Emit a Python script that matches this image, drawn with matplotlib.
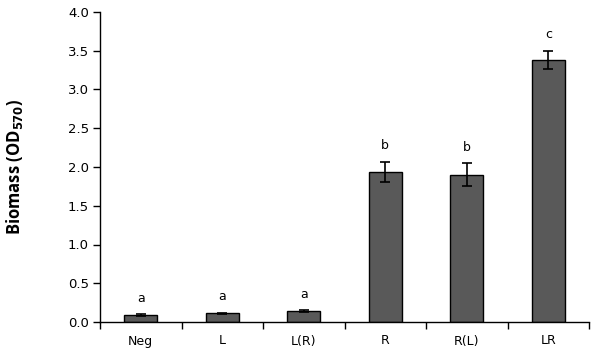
import matplotlib
matplotlib.use("Agg")
import matplotlib.pyplot as plt
import numpy as np

categories = ["Neg", "L", "L(R)", "R", "R(L)", "LR"]
values = [0.09, 0.11, 0.14, 1.94, 1.90, 3.38]
errors = [0.015, 0.012, 0.012, 0.13, 0.15, 0.12]
letters = ["a", "a", "a", "b", "b", "c"]
yticks = [0.0, 0.5, 1.0, 1.5, 2.0, 2.5, 3.0, 3.5, 4.0]

fig = plt.figure(figsize=(5.98, 3.54), dpi=100)
ax = fig.add_axes([100/598, 1-322/354, (589-100)/598, (322-12)/354])

x = np.arange(len(categories))
ax.bar(x, values, width=0.4, color="#595959", edgecolor="black", linewidth=1.0, zorder=2)
ax.errorbar(x, values, yerr=errors, fmt="none", ecolor="black", elinewidth=1.2,
            capsize=3.5, capthick=1.2, zorder=3)
for xi, v, e, t in zip(x, values, errors, letters):
    ax.text(xi, v + e + 0.12, t, ha="center", va="bottom", fontsize=9,
            family="DejaVu Sans")

ax.set_xlim(-0.5, len(categories) - 0.5)
ax.set_ylim(0, 4.0)
ax.set_yticks(yticks)
ax.set_yticklabels([f"{t:.1f}" for t in yticks], fontsize=9.5, family="DejaVu Sans")
ax.set_xticks(np.arange(len(categories) + 1) - 0.5)
ax.set_xticklabels([])
ax.set_xticks(x, minor=True)
ax.set_xticklabels(categories, minor=True, fontsize=9, family="DejaVu Sans")
ax.tick_params(axis="x", which="major", direction="out", length=5, width=1)
ax.tick_params(axis="x", which="minor", length=0, pad=9)
ax.tick_params(axis="y", direction="out", length=5, width=1, pad=3)

for s in ["top", "right"]:
    ax.spines[s].set_visible(False)
for s in ["left", "bottom"]:
    ax.spines[s].set_linewidth(1.0)

ax.set_ylabel(r"Biomass (OD$_{\mathbf{570}}$)", fontsize=12, fontweight="bold",
              family="Open Sans")
ax.yaxis.set_label_coords(-75/489, 0.5)

fig.savefig("out.png", dpi=100)
